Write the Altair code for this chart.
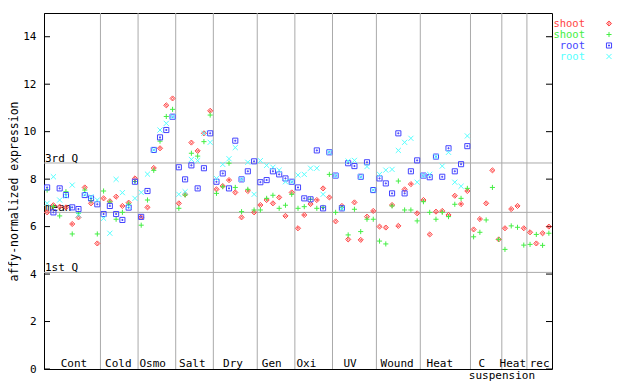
import altair as alt
import pandas as pd

# ---------------- data ----------------
series_keys = ["shoot_a", "shoot_b", "root_a", "root_b"]
legend_labels = ["shoot", "shoot", "root", "root"]
series_colors = ["#ff4444", "#44ee44", "#4444ff", "#55ffff"]
series_shapes = [
    "M0,-1L1,0L0,1L-1,0Z M0,-0.4L0.4,0L0,0.4L-0.4,0Z",
    "M-1,0L1,0M0,-1L0,1",
    "M-1,-1L1,-1L1,1L-1,1Z M-0.2,-0.2L0.2,-0.2L0.2,0.2L-0.2,0.2Z",
    "M-1,-1L1,1M-1,1L1,-1",
]

shoot_red = [
    6.60, 6.90, 6.84, 6.81, 6.11, 6.39, 7.65, 6.98, 5.29,
    7.19, 7.07, 7.26, 6.87, 7.01, 8.03,
    6.39, 6.81, 8.47, 9.30, 11.11, 11.40,
    6.98, 7.36, 9.54, 9.19, 9.93, 10.88,
    7.57, 7.71, 7.96, 7.44, 6.39, 7.50, 6.60,
    6.91, 7.12, 6.98, 7.23, 6.45, 7.44,
    5.93, 6.49, 6.95, 7.12, 7.61, 7.23,
    6.22, 6.87, 5.46, 7.02, 5.44, 6.42, 6.66,
    6.00, 5.96, 6.91, 6.03, 7.57, 7.79, 6.56,
    7.12, 5.67, 6.63, 6.66, 6.49, 7.30, 6.95, 7.50,
    5.88, 6.32, 6.98, 8.37, 5.46,
    5.93, 6.74, 6.87, 5.93,
    5.76, 5.29, 5.72, 6.00,
]
shoot_green = [
    7.54, 6.85, 6.45, 7.47, 5.69, 6.56, 7.54, 7.10, 5.69,
    7.50, 7.04, 6.31, 6.60, 6.95, 7.90,
    6.06, 7.12, 8.37, 9.60, 10.64, 10.94,
    6.77, 7.33, 9.09, 8.97, 9.58, 10.70,
    7.40, 7.68, 8.67, 7.65, 6.63, 7.57, 6.70,
    6.70, 7.19, 7.32, 6.77, 6.90, 7.36,
    6.77, 6.84, 7.15, 6.77, 6.81, 8.20,
    6.60, 6.80, 5.65, 6.73, 5.79, 6.31, 6.31,
    5.39, 5.27, 6.87, 7.92, 6.70, 6.70, 6.24,
    7.05, 6.60, 6.31, 6.60, 6.42, 6.94, 7.19, 7.61,
    5.57, 5.76, 6.28, 7.65, 5.46,
    5.04, 6.03, 5.97, 5.22,
    5.25, 5.67, 5.21, 5.72,
]
root_blue = [
    7.65, 6.60, 7.61, 7.33, 6.81, 6.74, 7.33, 7.19, 6.94,
    6.53, 6.87, 6.53, 6.28, 6.80, 7.89,
    6.41, 7.50, 9.23, 9.76, 10.07, 10.63,
    8.50, 7.99, 8.58, 7.61, 8.46, 9.93,
    7.89, 8.24, 7.61, 9.62, 7.99, 8.33, 8.75,
    7.87, 7.96, 8.33, 8.20, 8.03, 7.89,
    7.65, 7.19, 7.15, 9.21, 6.77, 9.13,
    8.15, 6.77, 8.67, 8.55, 8.10, 8.71, 7.54,
    8.03, 7.82, 7.40, 9.93, 7.40, 8.33, 8.79,
    8.15, 8.08, 8.95, 8.10, 9.30, 8.33, 8.63, 9.39,
    None, None, None, None, None,
    None, None, None, None,
    None, None, None, None,
]
root_cyan = [
    6.98, 8.10, 7.12, 7.30, 7.75, 6.49, 7.35, 7.26, 7.12,
    6.35, 5.72, 7.99, 7.43, 6.85, 7.19,
    7.44, 8.21, 9.23, 10.07, 10.35, 10.63,
    7.36, 7.47, 8.83, 8.78, 9.93, 9.55,
    8.03, 8.62, 8.86, 9.33, 7.99, 8.71, 7.36,
    8.78, 8.58, 8.50, 8.38, 7.89, 7.89,
    8.17, 8.20, 8.46, 8.46, 7.36, 9.13,
    8.15, 6.77, 8.76, 8.79, 8.10, 8.53, 7.54,
    8.20, 8.38, 8.41, 9.21, 9.55, 9.72, 7.87,
    8.15, 8.20, 8.95, 8.55, 9.13, 7.87, 7.70, 9.82,
    None, None, None, None, None,
    None, None, None, None,
    None, None, None, None,
]

group_sizes = [9, 6, 6, 6, 7, 6, 6, 7, 7, 8, 5, 4, 4]
label_text = ["Cont", "Cold", "Osmo", "Salt", "Dry", "Gen", "Oxi", "UV",
              "Wound", "Heat", "C", "Heat", "rec"]
label_pos = [4.78, 11.85, 17.34, 23.64, 30.14, 36.32, 41.83, 48.80,
             56.30, 63.11, 69.81, 74.75, 79.03]
sub_label_text = ["suspension"]
sub_label_pos = [73.01]

quartile_names = ["3rd Q", "mean", "1st Q"]
quartile_values = [8.68, 6.60, 4.07]
y_ticks = [0, 2, 4, 6, 8, 10, 12, 14]

# ---------------- tables ----------------
n_samples = sum(group_sizes)
rows = []
for key, vals in zip(series_keys, [shoot_red, shoot_green, root_blue, root_cyan]):
    for i, v in enumerate(vals):
        if v is not None:
            rows.append({"s": i + 0.5, "value": v, "series": key})
points_df = pd.DataFrame(rows)

bounds = []
acc = 0
for g in group_sizes[:-1]:
    acc += g
    bounds.append(acc)
bounds_df = pd.DataFrame({"b": bounds})
q_df = pd.DataFrame({"name": quartile_names, "value": quartile_values})
tick_df = pd.DataFrame({"value": y_ticks})
lab_df = pd.DataFrame({"pos": label_pos, "text": label_text})
sub_df = pd.DataFrame({"pos": sub_label_pos, "text": sub_label_text})

FONT = "DejaVu Sans Mono"
W, H = 508, 356

xs = alt.Scale(domain=[0, n_samples], nice=False, zero=False)
ys = alt.Scale(domain=[0, 15], nice=False, zero=True)
cscale = alt.Scale(domain=series_keys, range=series_colors)
sscale = alt.Scale(domain=series_keys, range=series_shapes)

yaxis = alt.Axis(values=y_ticks, ticks=False, grid=False, labelFont=FONT,
                 labelFontSize=11, labelPadding=8, labelColor="black",
                 title="affy-normalized expression", titleFont=FONT,
                 titleFontSize=11.5, titleFontWeight="normal",
                 titleX=-30, titleBaseline="middle",
                 titleColor="black", domainColor="black")


def Y(field):
    return alt.Y(field, scale=ys, axis=yaxis)


vlines = alt.Chart(bounds_df).mark_rule(color="#aaaaaa", strokeWidth=1).encode(
    x=alt.X("b:Q", scale=xs, axis=None))
hlines = alt.Chart(q_df).mark_rule(color="#aaaaaa", strokeWidth=1).encode(
    y=Y("value:Q"))
lticks = alt.Chart(tick_df).mark_rule(color="black").encode(
    y=Y("value:Q"), x=alt.value(0), x2=alt.value(6))
rticks = alt.Chart(tick_df).mark_rule(color="black").encode(
    y=Y("value:Q"), x=alt.value(W - 6), x2=alt.value(W))
qlabels = alt.Chart(q_df).mark_text(align="left", baseline="alphabetic", dy=-1,
                                    font=FONT, fontSize=11, color="black").encode(
    x=alt.value(1), y=Y("value:Q"), text="name:N")

pts = alt.Chart(points_df).mark_point(filled=False, size=26, strokeWidth=1,
                                      opacity=1).encode(
    x=alt.X("s:Q", scale=xs, axis=None),
    y=Y("value:Q"),
    color=alt.Color("series:N", scale=cscale, legend=None),
    shape=alt.Shape("series:N", scale=sscale, legend=None),
)

glabels = alt.Chart(lab_df).mark_text(align="center", baseline="alphabetic",
                                      font=FONT, fontSize=11, color="black").encode(
    x=alt.X("pos:Q", scale=xs, axis=None), y=alt.value(H - 2.5), text="text:N")
slabels = alt.Chart(sub_df).mark_text(align="center", baseline="alphabetic",
                                      font=FONT, fontSize=11, color="black").encode(
    x=alt.X("pos:Q", scale=xs, axis=None), y=alt.value(H + 9.5), text="text:N")

layers = [vlines, hlines, lticks, rticks, qlabels, pts, glabels, slabels]

for k, (key, lab) in enumerate(zip(series_keys, legend_labels)):
    ldf = pd.DataFrame({"series": [key], "label": [lab]})
    ytop = 10.5 + 11 * k
    layers.append(alt.Chart(ldf).mark_text(align="right", baseline="middle",
                                           font=FONT, fontSize=10.5).encode(
        x=alt.value(W + 33), y=alt.value(ytop), text="label:N",
        color=alt.Color("series:N", scale=cscale, legend=None)))
    layers.append(alt.Chart(ldf).mark_point(filled=False, size=26, strokeWidth=1,
                                            opacity=1).encode(
        x=alt.value(W + 57), y=alt.value(ytop),
        color=alt.Color("series:N", scale=cscale, legend=None),
        shape=alt.Shape("series:N", scale=sscale, legend=None)))

chart = alt.layer(*layers).properties(
    width=W, height=H,
    autosize=alt.AutoSizeParams(type="none"),
    padding={"left": 36, "top": 5, "right": 70, "bottom": 14},
    background="white",
).configure_view(stroke="black", strokeWidth=1)

chart.save("out.html", embed_options={"renderer": "svg", "actions": False})
